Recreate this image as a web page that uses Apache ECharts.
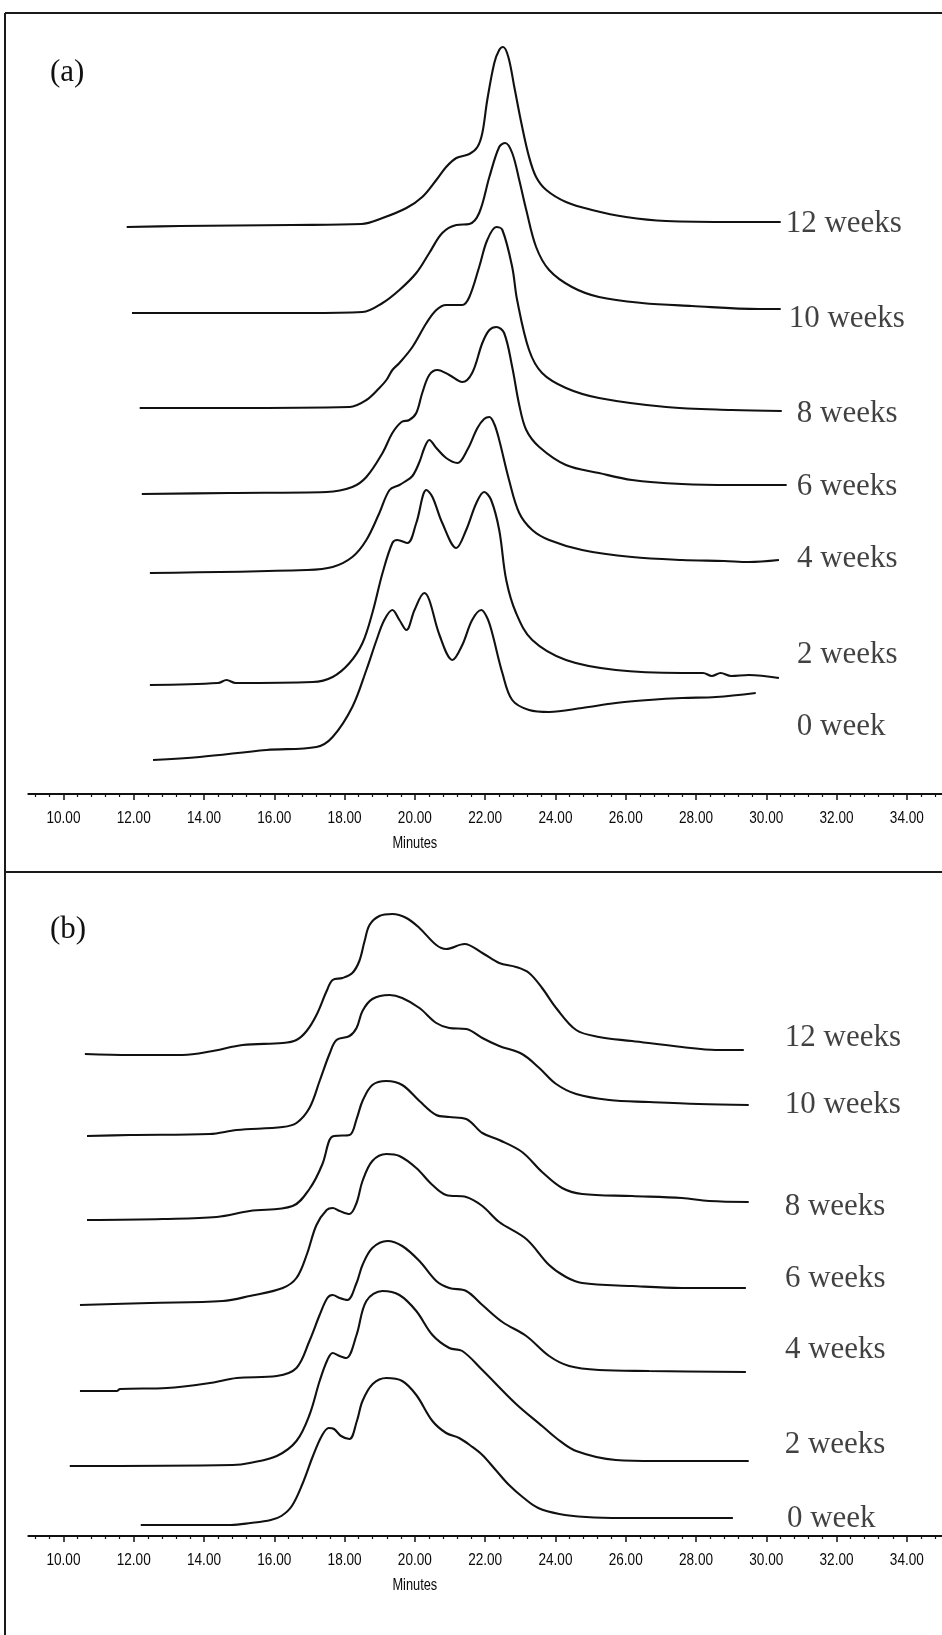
<!DOCTYPE html>
<html>
<head>
<meta charset="utf-8">
<script src="https://cdn.jsdelivr.net/npm/echarts@6/dist/echarts.min.js"></script>
<style>
  html, body { margin: 0; padding: 0; background: #ffffff; }
  #chart { width: 942px; height: 1635px; }
</style>
</head>
<body>
<div id="chart"></div>
<script>
// Stacked GPC chromatograms: retention time (minutes) vs. detector response,
// each trace lifted by its own baseline so the storage weeks stack upward.
const weekLabels = ['12 weeks', '10 weeks', '8 weeks', '6 weeks', '4 weeks', '2 weeks', '0 week'];
const majorTicks = [10, 12, 14, 16, 18, 20, 22, 24, 26, 28, 30, 32, 34];

// Panel (a): [minutes, response]
const a12 = [[11.80,567],[13.31,568],[16.50,569],[18.48,570],[19.08,576],[19.76,586],[20.21,597],[20.61,614],[20.89,627],[21.18,636],[21.55,640],[21.78,647],[21.92,661],[22.06,694],[22.26,731],[22.40,744],[22.51,747],[22.66,737],[22.83,707],[23.03,671],[23.25,637],[23.45,617],[23.74,604],[24.30,592],[25.04,584],[26.01,577],[27.15,573],[29.13,572],[30.41,572]];
const a10 = [[11.95,481],[16.92,481],[18.51,482],[19.08,491],[19.56,504],[20.04,521],[20.41,541],[20.78,561],[21.18,569],[21.55,570],[21.83,581],[22.12,617],[22.40,647],[22.57,651],[22.77,641],[22.97,614],[23.17,584],[23.45,547],[23.82,524],[24.47,507],[25.24,497],[26.46,491],[27.88,488],[29.79,485],[30.41,485]];
const a8 = [[12.17,386],[14.73,386],[18.14,387],[18.62,394],[18.99,406],[19.19,414],[19.36,424],[19.56,431],[19.93,447],[20.33,471],[20.61,484],[20.89,489],[21.35,489],[21.55,497],[21.83,527],[22.06,554],[22.32,567],[22.49,564],[22.77,527],[22.91,494],[23.25,444],[23.62,421],[24.30,406],[25.24,396],[27.15,387],[29.02,384],[30.44,383]];
const a6 = [[12.23,300],[14.73,301],[17.49,302],[18.22,307],[18.62,317],[19.08,341],[19.36,361],[19.62,372],[19.84,374],[20.04,381],[20.21,401],[20.41,419],[20.64,424],[20.98,419],[21.35,412],[21.63,421],[21.92,451],[22.12,464],[22.32,467],[22.54,461],[22.77,427],[22.97,389],[23.17,364],[23.54,347],[24.30,329],[25.24,321],[26.18,314],[27.60,310],[29.02,309],[30.58,309]];
const a4 = [[12.46,221],[16.92,224],[17.66,227],[18.22,237],[18.62,254],[18.99,281],[19.28,304],[19.56,309],[19.70,312],[19.93,318],[20.13,332],[20.27,346],[20.41,354],[20.61,346],[20.89,336],[21.21,331],[21.49,344],[21.78,366],[21.97,375],[22.12,377],[22.26,370],[22.40,354],[22.68,314],[22.97,281],[23.34,264],[23.82,254],[24.76,244],[26.18,237],[27.60,234],[28.80,233],[29.50,232],[30.36,234]];
const a2 = [[12.46,109],[14.40,111],[14.64,114],[14.90,111],[17.09,112],[17.66,117],[18.14,131],[18.51,151],[18.79,181],[19.08,221],[19.36,251],[19.50,254],[19.79,251],[20.04,271],[20.33,304],[20.50,297],[20.78,271],[21.18,246],[21.46,264],[21.75,291],[21.97,302],[22.17,294],[22.40,264],[22.60,214],[22.88,181],[23.34,154],[24.30,134],[25.72,124],[27.60,121],[28.20,121],[28.45,118],[28.70,121],[29.00,118],[29.50,119],[30.36,116]];
const a0 = [[12.55,34],[13.88,37],[15.78,44],[17.20,47],[17.66,57],[18.22,87],[18.62,124],[18.91,154],[19.13,174],[19.36,184],[19.56,174],[19.76,164],[19.99,184],[20.27,201],[20.41,194],[20.70,159],[21.07,134],[21.35,149],[21.63,174],[21.89,184],[22.06,176],[22.20,161],[22.49,121],[22.77,94],[23.25,84],[23.82,82],[24.76,86],[25.72,91],[26.66,94],[27.60,96],[28.57,97],[29.70,101]];

// Panel (b): [minutes, response]
const b12 = [[10.61,482],[11.89,481],[13.39,481],[14.25,485],[15.10,491],[16.24,493],[16.63,496],[16.92,505],[17.20,521],[17.49,545],[17.66,556],[17.94,558],[18.22,563],[18.42,575],[18.57,595],[18.71,611],[18.99,620],[19.36,622],[19.76,618],[20.13,608],[20.61,591],[20.89,587],[21.41,592],[21.92,583],[22.40,573],[22.88,569],[23.25,563],[23.62,548],[24.02,528],[24.59,506],[25.24,499],[26.18,495],[27.60,489],[28.57,486],[29.36,486]];
const b10 = [[10.67,400],[11.89,401],[14.16,402],[14.93,406],[16.24,409],[16.63,413],[17.00,428],[17.29,455],[17.57,482],[17.77,496],[18.14,500],[18.34,508],[18.51,525],[18.79,537],[19.28,541],[19.64,538],[20.13,528],[20.61,513],[20.98,508],[21.46,507],[21.92,498],[22.40,490],[23.05,482],[23.54,468],[24.02,452],[24.59,442],[25.53,436],[26.66,434],[28.08,432],[29.50,431]];
const b8 = [[10.67,316],[12.83,317],[14.36,319],[15.30,325],[16.52,330],[17.00,347],[17.37,372],[17.57,396],[17.70,400],[18.14,401],[18.35,418],[18.51,435],[18.79,451],[19.19,455],[19.64,451],[20.13,435],[20.61,421],[20.98,419],[21.46,417],[21.92,403],[22.40,396],[23.05,384],[23.62,364],[24.19,348],[24.76,342],[26.18,340],[27.60,338],[28.37,335],[29.50,334]];
const b6 = [[10.47,231],[12.46,233],[14.53,235],[15.30,240],[16.24,248],[16.63,258],[16.92,281],[17.20,311],[17.49,326],[17.66,328],[17.86,325],[18.14,322],[18.34,333],[18.51,355],[18.79,375],[19.19,382],[19.56,380],[20.04,368],[20.50,351],[20.89,341],[21.46,339],[21.92,330],[22.40,314],[23.17,297],[23.82,271],[24.30,259],[24.76,253],[26.18,250],[27.60,248],[29.42,248]];
const b4 = [[10.47,145],[11.52,145],[11.61,147],[12.94,148],[14.16,153],[14.93,158],[16.07,160],[16.63,168],[17.00,195],[17.29,221],[17.51,238],[17.66,241],[17.86,238],[18.08,236],[18.34,253],[18.51,271],[18.79,288],[19.22,295],[19.64,290],[20.13,275],[20.61,255],[20.98,248],[21.46,245],[21.92,231],[22.49,214],[23.17,200],[23.82,180],[24.39,170],[25.24,166],[26.66,165],[29.42,164]];
const b2 = [[10.18,70],[14.82,71],[15.30,73],[16.07,80],[16.63,95],[17.00,121],[17.29,155],[17.51,176],[17.66,183],[17.86,180],[18.05,178],[18.34,201],[18.62,235],[19.08,245],[19.56,241],[20.04,225],[20.50,201],[20.98,188],[21.35,185],[21.92,166],[22.88,132],[23.62,110],[24.02,98],[24.59,85],[25.72,76],[26.86,75],[29.50,75]];
const b0 = [[12.20,11],[14.76,11],[15.33,13],[15.90,16],[16.20,20],[16.50,30],[16.80,52],[17.10,80],[17.35,100],[17.55,108],[17.70,107],[17.90,100],[18.14,97],[18.35,115],[18.51,135],[18.80,152],[19.19,158],[19.64,155],[20.04,141],[20.50,115],[20.89,103],[21.26,98],[21.60,90],[21.92,81],[22.30,66],[22.68,51],[23.10,38],[23.51,28],[24.11,22],[24.87,19],[25.89,18],[27.50,18],[29.05,18]];

const tracesA = [a12, a10, a8, a6, a4, a2, a0];
const tracesB = [b12, b10, b8, b6, b4, b2, b0];

// Where each week label sits relative to the end of its trace (px).
const labelOffsetA = [[5,2],[8,10],[15,3],[10,2],[18,-1],[18,-23],[41,34]];
const labelOffsetB = [[41,-12],[36,0],[36,5],[39,-9],[39,-22],[36,-16],[54,1]];

const INK = '#111111';
const SANS = "'Liberation Sans','Arial',sans-serif";
const SERIF = "'Liberation Serif','Times New Roman',serif";

// Minor ticks every 0.4 min between the labelled ones.
const minorTicks = [];
for (let k = 23; k <= 87; k++) {
  const v = Math.round(k * 4) / 10;
  if (Math.abs(v / 2 - Math.round(v / 2)) > 1e-6) minorTicks.push(v);
}

function majorAxis(gridIndex) {
  return {
    type: 'value', gridIndex, min: 9, max: 35, position: 'bottom',
    axisLine: { show: true, onZero: false, lineStyle: { color: INK, width: 2 } },
    axisTick: { show: true, customValues: majorTicks, length: 6, lineStyle: { color: INK, width: 1.5 } },
    axisLabel: { show: false },
    splitLine: { show: false }
  };
}
function minorAxis(gridIndex) {
  return {
    type: 'value', gridIndex, min: 9, max: 35, position: 'bottom',
    axisLine: { show: false },
    axisTick: { show: true, customValues: minorTicks, length: 3, lineStyle: { color: INK, width: 1.2 } },
    axisLabel: { show: false },
    splitLine: { show: false }
  };
}

function traceSeries(data, name, xi, yi) {
  return {
    type: 'line', name, data, xAxisIndex: xi, yAxisIndex: yi,
    showSymbol: false, smooth: 0.35, silent: true, clip: false,
    lineStyle: { color: INK, width: 2.1 }
  };
}
function labelSeries(traces, offsets, xi, yi) {
  return {
    type: 'scatter', xAxisIndex: xi, yAxisIndex: yi, symbolSize: 0, silent: true,
    data: traces.map((tr, i) => ({
      name: weekLabels[i], value: tr[tr.length - 1],
      label: { offset: offsets[i] }
    })),
    label: {
      show: true, position: 'right', distance: 0, formatter: '{b}',
      color: '#111', fontSize: 31, fontFamily: SERIF
    }
  };
}

const series = [];
tracesA.forEach((tr, i) => series.push(traceSeries(tr, 'a ' + weekLabels[i], 0, 0)));
tracesB.forEach((tr, i) => series.push(traceSeries(tr, 'b ' + weekLabels[i], 2, 1)));
series.push(labelSeries(tracesA, labelOffsetA, 0, 0));
series.push(labelSeries(tracesB, labelOffsetB, 2, 1));

const frame = { stroke: '#1a1a1a', lineWidth: 2 };
const frameGraphics = [
  { type: 'line', shape: { x1: 5, y1: 13, x2: 942, y2: 13 }, style: frame },
  { type: 'line', shape: { x1: 5, y1: 13, x2: 5, y2: 1635 }, style: frame },
  { type: 'line', shape: { x1: 5, y1: 872, x2: 942, y2: 872 }, style: frame },
  { type: 'text', x: 50, y: 57, style: { text: '(a)', fontSize: 31, fontFamily: SERIF, fill: '#111' } },
  { type: 'text', x: 50, y: 914, style: { text: '(b)', fontSize: 31, fontFamily: SERIF, fill: '#111' } }
];

const option = {
  backgroundColor: '#ffffff',
  animation: false,
  grid: [
    { left: 28.3, width: 915.2, top: 14, height: 780 },
    { left: 28.3, width: 915.2, top: 870, height: 666 }
  ],
  xAxis: [majorAxis(0), minorAxis(0), majorAxis(1), minorAxis(1)],
  yAxis: [
    { type: 'value', gridIndex: 0, min: 0, max: 780, show: false },
    { type: 'value', gridIndex: 1, min: 0, max: 666, show: false }
  ],
  series,
  graphic: { elements: frameGraphics }
};

const chart = echarts.init(document.getElementById('chart'), null, { renderer: 'canvas' });
chart.setOption(option);

// Tick labels and axis titles in a narrow instrument-style face:
// placed at the pixel positions of the tick values on each panel's axis.
const axisText = [];
[0, 7].forEach(seriesIndex => {
  majorTicks.forEach(v => {
    const p = chart.convertToPixel({ seriesIndex }, [v, 0]);
    axisText.push({
      type: 'text', x: p[0], y: p[1] + 24, scaleX: 0.8, silent: true,
      style: { text: v.toFixed(2), fontSize: 17, fontFamily: SANS, fill: '#0a0a0a', align: 'center', verticalAlign: 'middle' }
    });
  });
  const m = chart.convertToPixel({ seriesIndex }, [20, 0]);
  axisText.push({
    type: 'text', x: m[0], y: m[1] + 50, scaleX: 0.8, silent: true,
    style: { text: 'Minutes', fontSize: 16, fontFamily: SANS, fill: '#0a0a0a', align: 'center', verticalAlign: 'middle' }
  });
});
chart.setOption({ graphic: { elements: frameGraphics.concat(axisText) } });
</script>
</body>
</html>
